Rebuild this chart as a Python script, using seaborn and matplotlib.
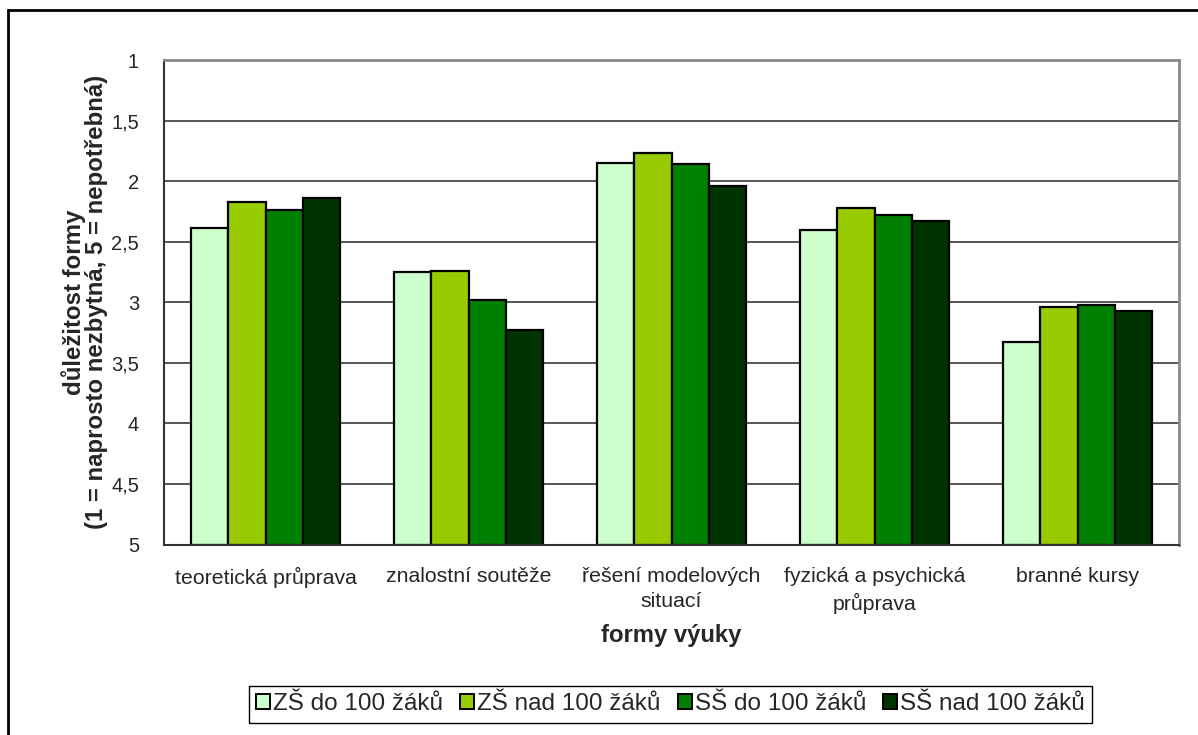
import numpy as np
import pandas as pd
import matplotlib
matplotlib.use('Agg')
import matplotlib.pyplot as plt
from matplotlib.patches import Patch, Rectangle
import seaborn as sns

# data (1 = naprosto nezbytna, 5 = nepotrebna)
formy = ['teoretická průprava', 'znalostní soutěže', 'řešení modelových\nsituací',
         'fyzická a psychická\nprůprava', 'branné kursy']
skupiny = ['ZŠ do 100 žáků', 'ZŠ nad 100 žáků', 'SŠ do 100 žáků', 'SŠ nad 100 žáků']
zs_do_100 = [2.39, 2.75, 1.85, 2.40, 3.33]
zs_nad_100 = [2.17, 2.74, 1.77, 2.22, 3.04]
ss_do_100 = [2.24, 2.98, 1.86, 2.28, 3.02]
ss_nad_100 = [2.14, 3.23, 2.04, 2.33, 3.07]
barvy = ['#CCFFCC', '#99CC00', '#008000', '#003300']
y_ticks = [1, 1.5, 2, 2.5, 3, 3.5, 4, 4.5, 5]

rows = []
for sk, vals in zip(skupiny, [zs_do_100, zs_nad_100, ss_do_100, ss_nad_100]):
    for f, v in zip(formy, vals):
        rows.append({'forma': f, 'skupina': sk, 'hodnota': v})
df = pd.DataFrame(rows)

sns.set_style('white')
plt.rcParams['font.family'] = ['Liberation Sans', 'DejaVu Sans']

fig = plt.figure(figsize=(11.98, 7.35), dpi=100)
ax = fig.add_axes([164 / 1198, 1 - 544.5 / 735, (1179 - 164) / 1198, (544.5 - 60) / 735])

sns.barplot(data=df, x='forma', y='hodnota', hue='skupina', order=formy, hue_order=skupiny,
            palette=barvy, width=0.73, edgecolor='black', linewidth=1.6, errorbar=None,
            saturation=1, legend=False, ax=ax)

# bars grow from the bottom of the inverted axis (5) up to the value
for p in ax.patches:
    h = p.get_height()
    p.set_y(5)
    p.set_height(h - 5)

ax.set_ylim(5, 1)
ax.set_xlim(-0.5, 4.5)
ax.set_yticks(y_ticks)
ax.set_yticklabels([('%g' % t).replace('.', ',') for t in y_ticks], fontsize=14.5)
ax.set_xticks(range(len(formy)))
ax.set_xticklabels(formy, fontsize=15.3, linespacing=1.45)
ax.set_xticks(np.arange(-0.5, 5, 1), minor=True)
ax.tick_params(axis='x', which='major', length=0, pad=16)
ax.tick_params(axis='x', which='minor', length=6, width=1, color='#333333', direction='out')
ax.tick_params(axis='y', length=6, width=1, color='#333333', direction='out', pad=12)

ax.set_axisbelow(True)
for t in y_ticks[1:-1]:
    ax.axhline(t, color='#3a3a3a', linewidth=1.2, zorder=0)

for side in ['left', 'bottom']:
    ax.spines[side].set_color('#333333')
    ax.spines[side].set_linewidth(1.5)
for side in ['top', 'right']:
    ax.spines[side].set_color('#8a8a8a')
    ax.spines[side].set_linewidth(2)

ax.set_xlabel('formy výuky', fontsize=17.2, fontweight='bold', labelpad=7)
ax.set_ylabel('důležitost formy\n(1 = naprosto nezbytná, 5 = nepotřebná)', fontsize=17.3,
              fontweight='bold', labelpad=2, linespacing=0.98)

handles = [Patch(facecolor=c, edgecolor='black', linewidth=1.4) for c in barvy]
leg = fig.legend(handles, skupiny, loc='center', bbox_to_anchor=(670.5 / 1198, 1 - 704.5 / 735),
                 ncol=4, fontsize=17.5, frameon=True, fancybox=False, edgecolor='black',
                 framealpha=1, handlelength=0.58, handleheight=0.58, handletextpad=0.12,
                 columnspacing=0.7, borderpad=0.3, borderaxespad=0)
leg.get_frame().set_linewidth(1)

# outer chart frame (cut off on the right and at the bottom)
fig.patches.append(Rectangle((8 / 1198, -0.05), 1.2, 1 - 10 / 735 + 0.05, transform=fig.transFigure,
                             fill=False, edgecolor='black', linewidth=2))

fig.savefig('out.png', dpi=100)
